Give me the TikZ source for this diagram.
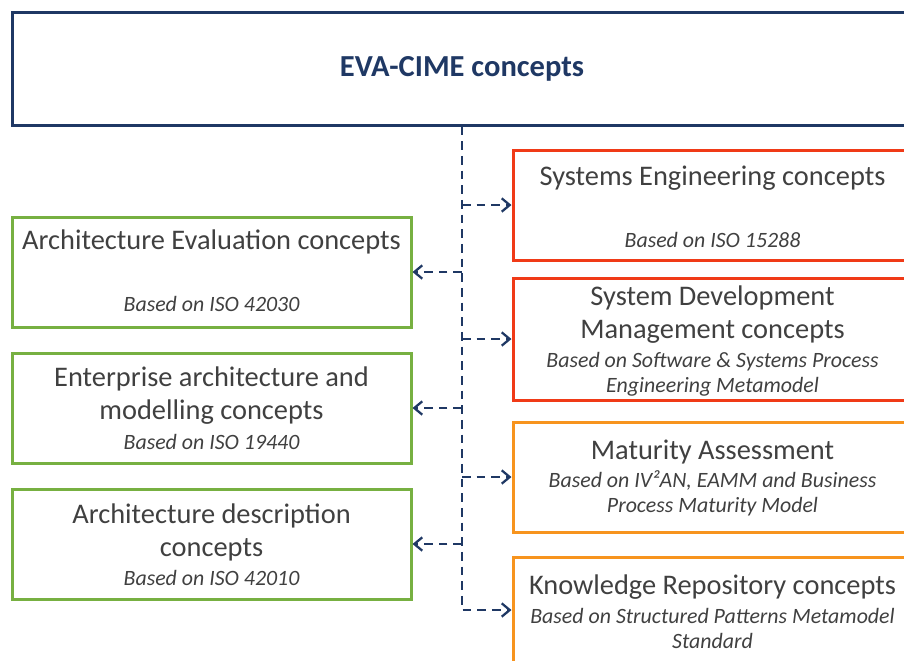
\documentclass[tikz,border=0pt]{standalone}
\usepackage{fontspec}
\setmainfont{Carlito}
\usetikzlibrary{calc}
\usetikzlibrary{arrows.meta}
\usetikzlibrary{positioning}

\definecolor{evablue}{RGB}{31,56,100}
\definecolor{evared}{RGB}{240,58,23}
\definecolor{evaorange}{RGB}{247,148,30}
\definecolor{evagreen}{RGB}{119,176,65}
\definecolor{evatext}{RGB}{64,64,64}

\begin{document}
\begin{tikzpicture}[x=0.75pt, y=-0.75pt]
    \tikzset{
        box/.style={draw, line width=2.25pt, minimum width=299.25pt, minimum height=82.5pt, inner sep=0pt},
        head/.style={text=evatext, align=center, font=\fontsize{21.3}{24.75}\selectfont, inner sep=0pt},
        base/.style={text=evatext, align=center, font=\fontsize{16.4}{18.75}\selectfont\itshape, inner sep=0pt},
        link/.style={evablue, line width=2.2pt, dash pattern=on 6.5pt off 4.5pt, -{Straight Barb[length=6pt, width=10pt, line width=1.7pt]}}
    }

    % ---- Frame ----
    \useasboundingbox (0,0) rectangle (904,661);
    \clip (0,0) rectangle (904,661);

    % Constants
    \pgfmathsetmacro{\xtrunk}{462}
    \pgfmathsetmacro{\xleft}{211.5}
    \pgfmathsetmacro{\xright}{712.5}

    % Top box
    \node [box, draw=evablue, minimum width=675pt, minimum height=84.75pt] (eva) at (462,68.5) {};
    \node [text=evablue, font=\fontsize{22.9}{26}\selectfont\bfseries] (evaT) at (eva.center) {EVA-CIME concepts};

    % Right boxes
    \node [box, draw=evared] (se) at (\xright,205) {};
    \node [box, draw=evared, minimum height=91.5pt] (sdm) at (\xright,339) {};
    \node [box, draw=evaorange] (ma) at (\xright,477) {};
    \node [box, draw=evaorange, minimum height=79.5pt] (kr) at (\xright,610) {};

    % Left boxes
    \node [box, draw=evagreen] (ae) at (\xleft,272) {};
    \node [box, draw=evagreen] (eam) at (\xleft,408) {};
    \node [box, draw=evagreen] (ad) at (\xleft,544) {};

    % Texts
    \node [head] (seH) at (\xright,178) {Systems Engineering concepts};
    \node [base] (seB) at (\xright,240) {Based on ISO 15288};

    \node [head] (sdmH) at (\xright,315) {System Development\\Management concepts};
    \node [base] (sdmB) at (\xright,374) {Based on Software \& Systems Process\\Engineering Metamodel};

    \node [head] (maH) at (\xright,452) {Maturity Assessment};
    \node [base] (maB) at (\xright,493) {Based on IV²AN, EAMM and Business\\Process Maturity Model};

    \node [head] (krH) at (\xright,587) {Knowledge Repository concepts};
    \node [base] (krB) at (\xright,628) {Based on Structured Patterns Metamodel\\Standard};

    \node [head] (aeH) at (\xleft,242) {Architecture Evaluation concepts};
    \node [base] (aeB) at (\xleft,304) {Based on ISO 42030};

    \node [head] (eamH) at (\xleft,396) {Enterprise architecture and\\modelling concepts};
    \node [base] (eamB) at (\xleft,442) {Based on ISO 19440};

    \node [head] (adH) at (\xleft,532) {Architecture description\\concepts};
    \node [base] (adB) at (\xleft,578) {Based on ISO 42010};

    % Junctions on the trunk
    \coordinate (jse) at (\xtrunk,205);
    \coordinate (jae) at (\xtrunk,272);
    \coordinate (jsdm) at (\xtrunk,339);
    \coordinate (jeam) at (\xtrunk,408);
    \coordinate (jma) at (\xtrunk,477);
    \coordinate (jad) at (\xtrunk,544);

    % Links
    \draw [link] (eva.south) |- (kr.west);
    \draw [link] (jse) -- (se.west);
    \draw [link] (jae) -- (ae.east);
    \draw [link] (jsdm) -- (sdm.west);
    \draw [link] (jeam) -- (eam.east);
    \draw [link] (jma) -- (ma.west);
    \draw [link] (jad) -- (ad.east);

\end{tikzpicture}
\end{document}
